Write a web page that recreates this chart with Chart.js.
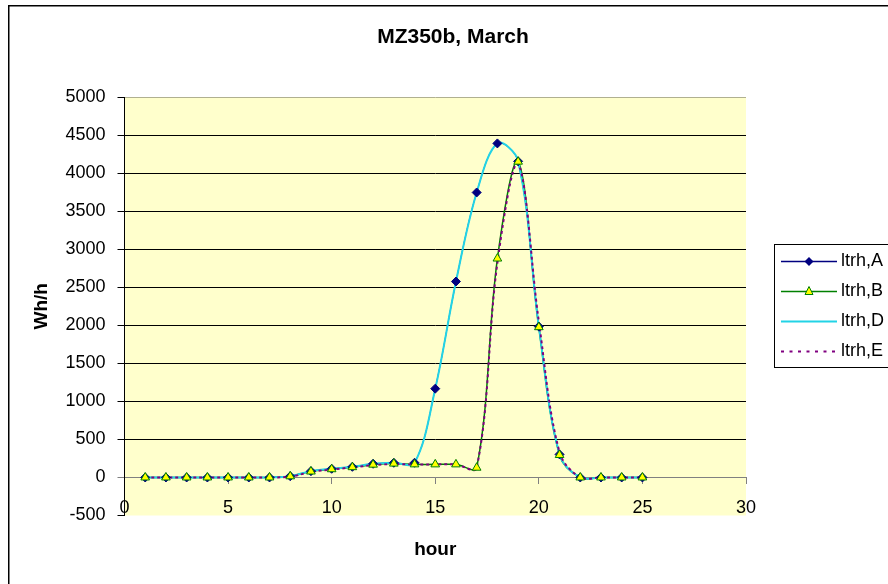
<!DOCTYPE html>
<html lang="en">

<head>
    <meta charset="UTF-8">
    <title>MZ350b, March</title>
    <script src="https://cdn.jsdelivr.net/npm/chart.js"></script>
    <style>
        body { margin: 0; background: #fff; }
        #grafico { display: block; }
    </style>
</head>

<body>
    <canvas id="grafico" width="888" height="584"></canvas>
</body>

</html>

<script>
    // valores (Wh/h por hora)
    const horas = [1, 2, 3, 4, 5, 6, 7, 8, 9, 10, 11, 12, 13, 14, 15, 16, 17, 18, 19, 20, 21, 22, 23, 24, 25];
    const ltrhA = [0, 0, 0, 0, 0, 0, 0, 17, 83, 114, 140, 180, 193, 193, 1167, 2575, 3745, 4390, 4154, 1983, 303, 0, 0, 0, 0];
    const ltrhB = [0, 0, 0, 0, 0, 0, 0, 15, 78, 108, 135, 168, 182, 172, 172, 172, 128, 2877, 4150, 1975, 295, 0, 0, 0, 0];
    const ltrhD = [0, 0, 0, 0, 0, 0, 0, 17, 83, 114, 140, 180, 193, 193, 1167, 2575, 3745, 4390, 4160, 1983, 303, 0, 0, 0, 0];
    const ltrhE = [0, 0, 0, 0, 0, 0, 0, 10, 72, 105, 132, 162, 176, 170, 172, 170, 125, 2820, 4120, 2050, 330, 0, 0, 0, 0];

    const nomes = ['ltrh,A', 'ltrh,B', 'ltrh,D', 'ltrh,E'];
    const titulo = 'MZ350b, March';
    const tituloX = 'hour';
    const tituloY = 'Wh/h';
    const limitesY = [-500, 5000, 500];
    const limitesX = [0, 30, 5];

    const fonte = '"Liberation Sans", Arial, sans-serif';
    const suave = 0.35;

    function pontos(valores) {
        return horas.map((h, i) => ({ x: h, y: valores[i] }));
    }

    function corGrade(c) {
        if (!c.tick) return '#000';
        if (c.tick.value === limitesY[0]) return 'rgba(0,0,0,0)';
        if (c.tick.value === limitesY[1]) return '#B0B090';
        if (c.tick.value === 0) return '#808080';
        return '#000';
    }

    const fundo = {
        id: 'fundo',
        beforeDraw(chart) {
            const ctx = chart.ctx;
            const a = chart.chartArea;
            ctx.save();
            ctx.fillStyle = '#fff';
            ctx.fillRect(0, 0, chart.width, chart.height);
            ctx.fillStyle = '#FFFFCC';
            ctx.fillRect(a.left, a.top, a.right - a.left, a.bottom - a.top);
            ctx.strokeStyle = '#000';
            ctx.lineWidth = 1.5;
            ctx.strokeRect(8.75, 5.75, 920, 620);
            ctx.restore();
        }
    };

    // legenda desenhada a mao para ficar na caixa cortada a direita
    const legenda = {
        id: 'legenda',
        afterDraw(chart) {
            const ctx = chart.ctx;
            ctx.save();
            ctx.strokeStyle = '#000';
            ctx.lineWidth = 1;
            ctx.strokeRect(774.5, 244.5, 140, 123);
            ctx.font = '18px ' + fonte;
            ctx.textBaseline = 'middle';

            const cores = ['#000080', '#008000', '#22D3E6', '#800080'];
            nomes.forEach((nome, i) => {
                const y = 261.5 + i * 30;
                ctx.beginPath();
                ctx.strokeStyle = cores[i];
                ctx.lineWidth = i == 2 || i == 3 ? 2 : 1.5;
                ctx.setLineDash(i == 3 ? [3, 5.5] : []);
                ctx.moveTo(781, y);
                ctx.lineTo(837, y);
                ctx.stroke();
                ctx.setLineDash([]);

                if (i == 0) {
                    ctx.beginPath();
                    ctx.fillStyle = '#000080';
                    ctx.moveTo(809, y - 4.5);
                    ctx.lineTo(813.5, y);
                    ctx.lineTo(809, y + 4.5);
                    ctx.lineTo(804.5, y);
                    ctx.closePath();
                    ctx.fill();
                }
                if (i == 1) {
                    ctx.beginPath();
                    ctx.fillStyle = '#FFFF00';
                    ctx.strokeStyle = '#008000';
                    ctx.lineWidth = 1;
                    ctx.moveTo(809, y - 5);
                    ctx.lineTo(813, y + 3);
                    ctx.lineTo(805, y + 3);
                    ctx.closePath();
                    ctx.fill();
                    ctx.stroke();
                }

                ctx.fillStyle = '#000';
                ctx.fillText(nome, 841, y);
            });
            ctx.restore();
        }
    };

    const data = {
        datasets: [
            {
                label: nomes[0],
                data: pontos(ltrhA),
                borderColor: '#000080',
                borderWidth: 1,
                pointRadius: 0,
                tension: suave,
                order: 5
            },
            {
                label: nomes[1],
                data: pontos(ltrhB),
                borderColor: '#008000',
                borderWidth: 1.5,
                pointRadius: 0,
                tension: suave,
                order: 4
            },
            {
                label: nomes[2],
                data: pontos(ltrhD),
                borderColor: '#22D3E6',
                borderWidth: 2,
                pointRadius: 0,
                tension: suave,
                order: 3
            },
            {
                label: nomes[3],
                data: pontos(ltrhE),
                borderColor: '#800080',
                borderWidth: 2,
                borderDash: [3, 3],
                pointRadius: 0,
                tension: suave,
                order: 2
            },
            // marcadores por cima das linhas
            {
                label: nomes[0],
                data: pontos(ltrhA),
                showLine: false,
                pointStyle: 'rectRot',
                pointRadius: 4.5,
                pointBackgroundColor: '#000080',
                pointBorderColor: '#000080',
                pointBorderWidth: 1,
                order: 1
            },
            {
                label: nomes[1],
                data: pontos(ltrhB),
                showLine: false,
                pointStyle: 'triangle',
                pointRadius: 5,
                pointBackgroundColor: '#FFFF00',
                pointBorderColor: '#008000',
                pointBorderWidth: 1,
                order: 0
            }
        ]
    };

    const config = {
        type: 'line',
        data: data,
        plugins: [fundo, legenda],
        options: {
            responsive: false,
            animation: false,
            layout: { padding: { left: 18, right: 0, top: 0, bottom: 68.5 } },
            plugins: {
                legend: { display: false },
                tooltip: { enabled: false },
                title: {
                    display: true,
                    text: titulo,
                    color: '#000',
                    font: { family: fonte, size: 21, weight: 'bold' },
                    padding: { top: 25, bottom: 46.8 }
                }
            },
            scales: {
                x: {
                    type: 'linear',
                    position: { y: 0 },
                    min: limitesX[0],
                    max: limitesX[1],
                    afterFit: (escala) => { escala.height = 68.5; },
                    ticks: {
                        stepSize: limitesX[2],
                        color: '#000',
                        padding: 14,
                        font: { family: fonte, size: 18 },
                        callback: (v) => String(v)
                    },
                    grid: { drawOnChartArea: false, drawTicks: true, tickLength: 6, color: '#808080' },
                    border: { color: '#808080', width: 1 },
                    title: {
                        display: true,
                        text: tituloX,
                        color: '#000',
                        font: { family: fonte, size: 19, weight: 'bold' },
                        padding: { top: 0, bottom: -15.7 }
                    }
                },
                y: {
                    min: limitesY[0],
                    max: limitesY[1],
                    afterFit: (escala) => { escala.width = 106.5; },
                    ticks: {
                        stepSize: limitesY[2],
                        color: '#000',
                        padding: 12,
                        font: { family: fonte, size: 18 },
                        callback: (v) => String(v)
                    },
                    grid: {
                        tickLength: 7,
                        color: corGrade,
                        tickColor: (c) => c.tick && c.tick.value === 0 ? '#808080' : '#000'
                    },
                    border: { color: '#000', width: 1 },
                    title: {
                        display: true,
                        text: tituloY,
                        color: '#000',
                        font: { family: fonte, size: 19, weight: 'bold' },
                        padding: { top: 12.3, bottom: 0 }
                    }
                },
                lado: {
                    position: 'right',
                    display: true,
                    afterFit: (escala) => { escala.width = 142; },
                    ticks: { display: false },
                    grid: { display: false },
                    border: { display: false }
                }
            }
        }
    };

    let myChart = new Chart(document.getElementById('grafico'), config);
</script>
